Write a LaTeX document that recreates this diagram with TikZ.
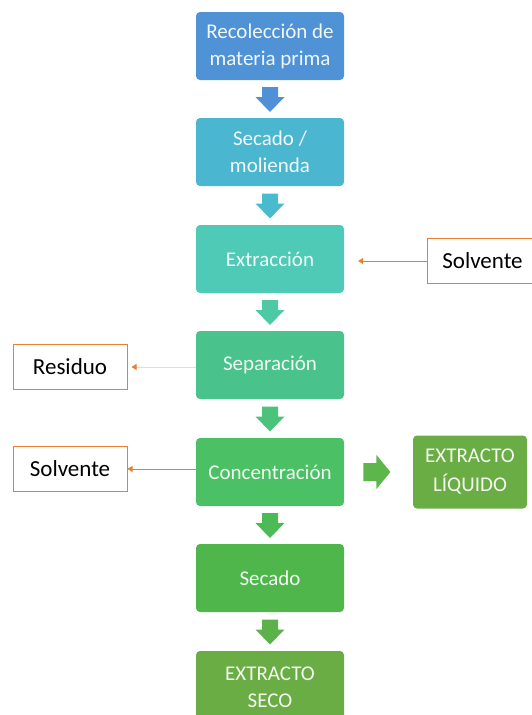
\documentclass[tikz,border=0pt]{standalone}
\usepackage{fontspec}
\setmainfont{Carlito}
\usetikzlibrary{arrows.meta,calc}
\definecolor{c1}{HTML}{5092D6}
\definecolor{c2}{HTML}{4BB6CF}
\definecolor{c3}{HTML}{4ECAB6}
\definecolor{c4}{HTML}{4AC28C}
\definecolor{c5}{HTML}{4CC064}
\definecolor{c6}{HTML}{4EB64B}
\definecolor{c7}{HTML}{6AAD45}
\definecolor{a1}{HTML}{4F90D7}
\definecolor{a2}{HTML}{4ABBCF}
\definecolor{a3}{HTML}{4DC9A6}
\definecolor{a4}{HTML}{4BC37A}
\definecolor{a5}{HTML}{4CBB55}
\definecolor{a6}{HTML}{5CB14A}
\definecolor{ar}{HTML}{5DB64B}
\definecolor{org}{HTML}{ED7D31}
\definecolor{lorg}{HTML}{F7D8C2}
\tikzset{
  procbox/.style={rounded corners=4pt, minimum width=148pt, minimum height=68pt,
    inner sep=2pt, align=center, text=white, text opacity=0.92,
    font=\fontsize{21}{27}\selectfont},
  sidebox/.style={draw=org, line width=1pt, fill=white, minimum width=114pt,
    minimum height=45pt, font=\fontsize{23}{27}\selectfont, text=black},
  orangearrow/.style={draw=org, line width=0.8pt, -{Triangle[length=5pt,width=6pt]}},
}
% down block arrow centred at #1, colour #2
\newcommand\blockdown[2]{%
  \fill[#2] ($(#1)+(-8,-12)$) -- ($(#1)+(8,-12)$) -- ($(#1)+(8,-2)$) -- ($(#1)+(14.5,-2)$)
    -- ($(#1)+(0,13)$) -- ($(#1)+(-14.5,-2)$) -- ($(#1)+(-8,-2)$) -- cycle;}
\newcommand\blockright[2]{%
  \fill[#2] ($(#1)+(-13,-9)$) -- ($(#1)+(0,-9)$) -- ($(#1)+(0,-17)$) -- ($(#1)+(14,0)$)
    -- ($(#1)+(0,17)$) -- ($(#1)+(0,9)$) -- ($(#1)+(-13,9)$) -- cycle;}
\begin{document}
\begin{tikzpicture}[x=1pt,y=-1pt]
\useasboundingbox (0,0) rectangle (532,715);
\clip (0,0) rectangle (532,715);
\node[procbox, fill=c1] (b1) at (270,46) {Recolección de\\materia prima};
\node[procbox, fill=c2] (b2) at (270,152) {Secado /\\molienda};
\node[procbox, fill=c3] (b3) at (270,259) {Extracción};
\node[procbox, fill=c4] (b4) at (270,365) {Separación};
\node[procbox, fill=c5] (b5) at (270,472) {Concentración};
\node[procbox, fill=c6] (b6) at (270,578) {Secado};
\node[procbox, fill=c7, minimum height=72pt] (b7) at (270,687) {EXTRACTO\\SECO};
\node[procbox, fill=c7, minimum width=114pt, minimum height=73pt, font=\fontsize{21}{29}\selectfont] (liq) at (470,472) {EXTRACTO\\LÍQUIDO};

\coordinate (d1) at ($(b1.south)!0.5!(b2.north)$);
\coordinate (d2) at ($(b2.south)!0.5!(b3.north)$);
\coordinate (d3) at ($(b3.south)!0.5!(b4.north)$);
\coordinate (d4) at ($(b4.south)!0.5!(b5.north)$);
\coordinate (d5) at ($(b5.south)!0.5!(b6.north)$);
\coordinate (d6) at ($(b6.south)!0.5!(b7.north)$);
\coordinate (r1) at ($(b5.east)!0.47!(liq.west)$);
\blockdown{d1}{a1}
\blockdown{d2}{a2}
\blockdown{d3}{a3}
\blockdown{d4}{a4}
\blockdown{d5}{a5}
\blockdown{d6}{a6}
\blockright{r1}{ar}

\node[sidebox, anchor=west, minimum width=110pt] (solvR) at (427,261) {Solvente};
\node[sidebox] (resid) at (70,367) {Residuo};
\node[sidebox] (solvL) at (70,469) {Solvente};

\draw[orangearrow, shorten >=14pt] (solvR.west) -- (b3.east |- solvR.west);
\draw[draw=lorg, line width=0.8pt, -{Triangle[length=5pt,width=6pt,color=org]}, shorten >=4pt] (b4.west |- resid.east) -- (resid.east);
\draw[orangearrow] (b5.west |- solvL.east) -- (solvL.east);
\end{tikzpicture}
\end{document}
